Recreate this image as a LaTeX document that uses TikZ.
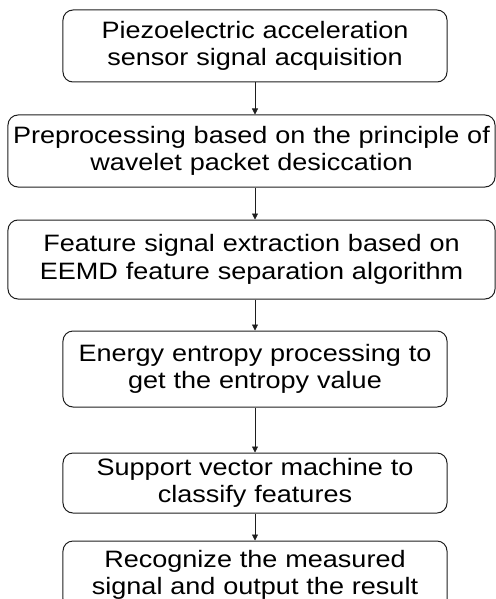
\documentclass[tikz,border=0pt]{standalone}
\usepackage{fontspec}
\setmainfont{Liberation Sans}[FakeStretch=1.14]
\usetikzlibrary{positioning, arrows.meta}
\definecolor{inkgrey}{RGB}{30,30,30}

\begin{document}
\begin{tikzpicture}[
    x=1bp, y=1bp,
    font=\fontsize{23.8}{27.5}\selectfont,
    every node/.style={text=black},
    procbox/.style={draw=inkgrey, line width=1bp, rounded corners=10bp, align=center, inner sep=0pt, text width=384bp, minimum width=384bp, minimum height=72bp},
    widebox/.style={procbox, text width=487bp, minimum width=487bp},
    arrow/.style={-{Triangle[length=6bp,width=6bp]}, line width=0.7bp, draw=inkgrey},
]
\useasboundingbox (0,0) rectangle (496,-599);

% ------------------------------------------------------------ acquisition ---
\node[procbox] (acq) at (255,-46) {Piezoelectric acceleration\\sensor signal acquisition};

% ---------------------------------------------------------- preprocessing ---
\node[widebox, below=32bp of acq, xshift=-3.5bp] (prep) {Preprocessing based on the principle of\\wavelet packet desiccation};
\draw[arrow] (acq.south) -- (acq.south |- prep.north);

% ------------------------------------------------------------- extraction ---
\node[widebox, below=32bp of prep, minimum height=79bp] (eemd) {Feature signal extraction based on\\EEMD feature separation algorithm};
\draw[arrow] (acq.south |- prep.south) -- (acq.south |- eemd.north);

% ---------------------------------------------------------------- entropy ---
\node[procbox, below=31bp of eemd, xshift=3.5bp, minimum height=76bp] (entropy) {Energy entropy processing to\\get the entropy value};
\draw[arrow] (entropy.north |- eemd.south) -- (entropy.north);

% -------------------------------------------------------------------- svm ---
\node[procbox, below=45bp of entropy, minimum height=60bp] (svm) {Support vector machine to\\classify features};
\draw[arrow] (entropy) -- (svm);

% ----------------------------------------------------------------- result ---
\node[procbox, below=27bp of svm, minimum height=68bp] (result) {Recognize the measured\\signal and output the result};
\draw[arrow] (svm) -- (result);

\end{tikzpicture}
\end{document}
